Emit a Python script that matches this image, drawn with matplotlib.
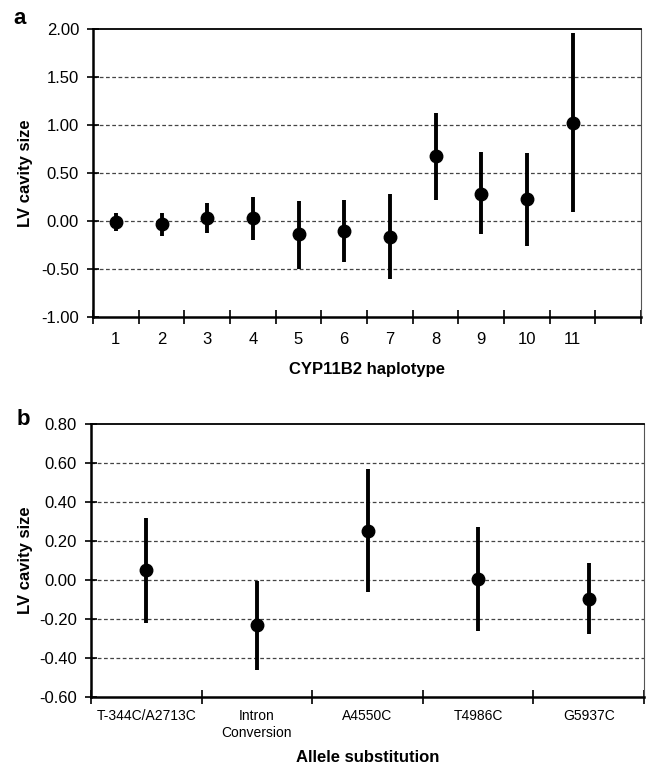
import numpy as np
import matplotlib
matplotlib.use("Agg")
import matplotlib.pyplot as plt
from matplotlib.ticker import FixedLocator, NullFormatter

plt.rcParams['font.family'] = ['Liberation Sans', 'DejaVu Sans']

# panel a: CYP11B2 haplotypes
hap_labels = ['1', '2', '3', '4', '5', '6', '7', '8', '9', '10', '11']
hap_mean = [-0.01, -0.035, 0.03, 0.03, -0.14, -0.105, -0.165, 0.67, 0.28, 0.23, 1.02]
hap_low = [-0.11, -0.16, -0.125, -0.20, -0.50, -0.435, -0.61, 0.22, -0.14, -0.26, 0.09]
hap_high = [0.08, 0.08, 0.18, 0.25, 0.21, 0.22, 0.28, 1.12, 0.72, 0.71, 1.96]
hap_yticks = [-1.0, -0.5, 0.0, 0.5, 1.0, 1.5, 2.0]

# panel b: allele substitutions
sub_labels = ['T-344C/A2713C', 'Intron\nConversion', 'A4550C', 'T4986C', 'G5937C']
sub_mean = [0.05, -0.233, 0.253, 0.005, -0.099]
sub_low = [-0.218, -0.46, -0.06, -0.26, -0.276]
sub_high = [0.318, -0.003, 0.567, 0.274, 0.085]
sub_yticks = [-0.6, -0.4, -0.2, 0.0, 0.2, 0.4, 0.6, 0.8]

W, H = 647, 770
fig = plt.figure(figsize=(W / 100, H / 100), dpi=100)


def make_ax(left, right, top, bottom):
    return fig.add_axes([left / W, 1 - bottom / H, (right - left) / W, (bottom - top) / H])


def draw_panel(ax, labels, mean, low, high, yticks, nslots, xlabel, letter,
               xfont, xpad, xlab_y, ylab_x, let_xy):
    x = np.arange(1, len(labels) + 1)
    mean = np.array(mean)
    yerr = [mean - np.array(low), np.array(high) - mean]
    ax.errorbar(x, mean, yerr=yerr, fmt='o', color='black', ms=9,
                elinewidth=2.8, capsize=0, zorder=3)
    ax.set_xlim(0.5, nslots + 0.5)
    ax.set_ylim(yticks[0], yticks[-1])
    ax.set_yticks(yticks)
    ax.set_yticklabels(['%.2f' % v for v in yticks], fontsize=12)
    for v in yticks[1:-1]:
        ax.axhline(v, color='#444444', lw=0.9, ls=(0, (3, 2)), zorder=1)
    # category labels sit between the tick marks
    ax.set_xticks(x)
    ax.set_xticklabels(labels, fontsize=xfont)
    ax.tick_params(axis='x', which='major', length=0, pad=xpad)
    ax.xaxis.set_minor_locator(FixedLocator(np.arange(0.5, nslots + 1, 1.0)))
    ax.xaxis.set_minor_formatter(NullFormatter())
    ax.tick_params(axis='x', which='minor', direction='inout', length=10, width=1.2)
    ax.tick_params(axis='y', direction='inout', length=8, width=1.2, pad=6)
    for side in ['left', 'bottom']:
        ax.spines[side].set_linewidth(1.8)
    ax.spines['top'].set_linewidth(1.3)
    ax.spines['right'].set_linewidth(0.8)
    ax.spines['right'].set_color('#555555')
    ax.set_xlabel(xlabel, fontsize=12, fontweight='bold', va='center')
    ax.xaxis.set_label_coords(0.5, xlab_y)
    ax.set_ylabel('LV cavity size', fontsize=12, fontweight='bold', va='center')
    ax.yaxis.set_label_coords(ylab_x, 0.5)
    ax.text(let_xy[0], let_xy[1], letter, transform=ax.transAxes, fontsize=16,
            fontweight='bold', ha='left', va='center')


ax1 = make_ax(93, 641, 28.7, 316.7)
draw_panel(ax1, hap_labels, hap_mean, hap_low, hap_high, hap_yticks, 12,
           'CYP11B2 haplotype', 'a', 12, 11, -0.185, -0.124, (-0.146, 1.034))

ax2 = make_ax(91, 644, 424, 697)
draw_panel(ax2, sub_labels, sub_mean, sub_low, sub_high, sub_yticks, 5,
           'Allele substitution', 'b', 10, 9, -0.222, -0.119, (-0.134, 1.015))

fig.savefig('out.png', dpi=100)
